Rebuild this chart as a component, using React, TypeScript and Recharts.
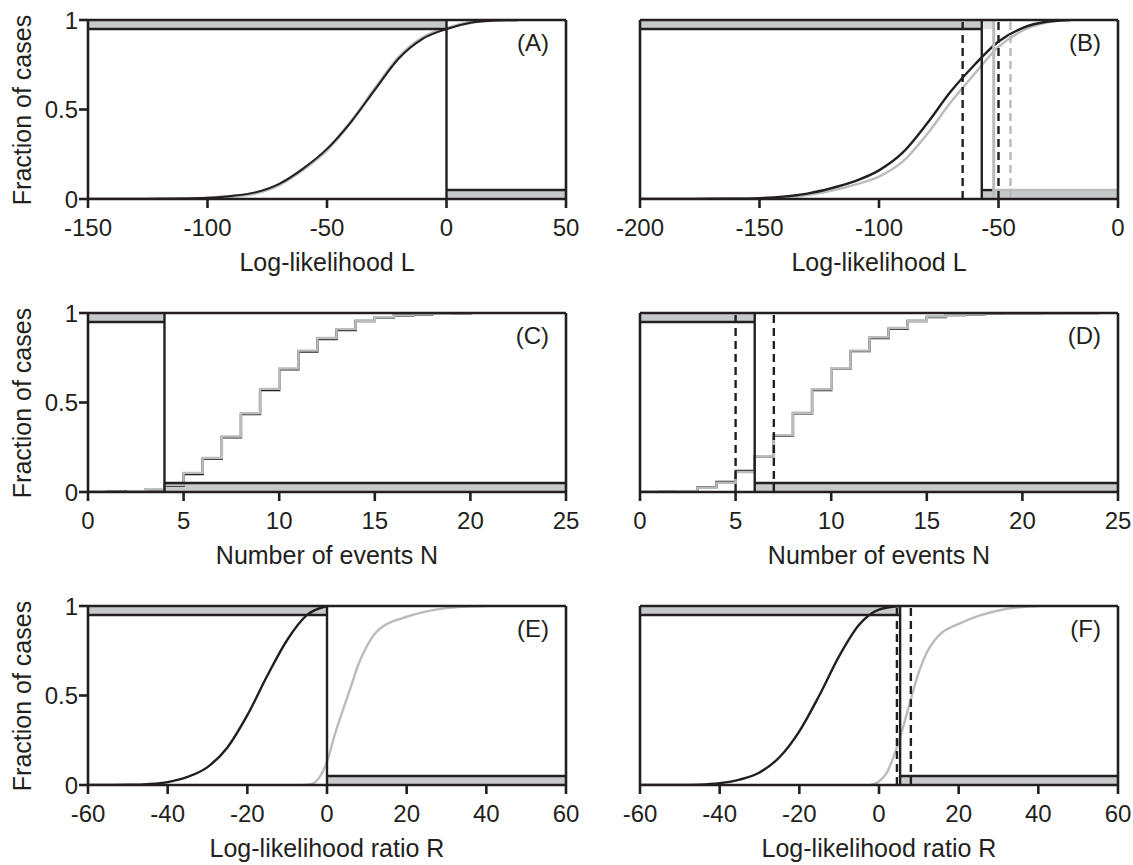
import React from 'react';
import { LineChart, Line, XAxis, YAxis, ReferenceArea, ReferenceLine } from 'recharts';

const INK = '#231f20';
const GREY = '#b9bbbd';
const BAND = '#c8c9cb';
const BAND_LIGHT = '#dfe0e1';
const FONT = '"Liberation Sans", Arial, Helvetica, sans-serif';

// ---------- tick labels ----------
const TICKS_LA = [-150, -100, -50, 0, 50];
const TICKS_LB = [-200, -150, -100, -50, 0];
const TICKS_N = [0, 5, 10, 15, 20, 25];
const TICKS_R = [-60, -40, -20, 0, 20, 40, 60];
const TICKS_Y = [0, 0.5, 1];

const PANEL_LABELS = ['(A)', '(B)', '(C)', '(D)', '(E)', '(F)'];
const X_TITLES = [
  'Log-likelihood L',
  'Log-likelihood L',
  'Number of events N',
  'Number of events N',
  'Log-likelihood ratio R',
  'Log-likelihood ratio R',
];
const Y_TITLE = 'Fraction of cases';

// ---------- significance levels ----------
const LEVEL_HI = 0.95;
const LEVEL_LO = 0.05;

// ---------- panel A ----------
const A_X = [-150, -130, -120, -110, -100, -90, -80, -70, -60, -50, -40, -30, -20, -10, 0, 10, 20, 30];
const A_BLACK = [0, 0, 0.001, 0.003, 0.007, 0.017, 0.037, 0.085, 0.17, 0.28, 0.43, 0.61, 0.785, 0.895, 0.95, 0.985, 0.997, 1];
const A_GREY = [0, 0, 0.001, 0.002, 0.005, 0.014, 0.033, 0.08, 0.165, 0.275, 0.43, 0.615, 0.79, 0.9, 0.952, 0.986, 0.998, 1];
const A_CUT = 0;

// ---------- panel B ----------
const B_X = [-200, -190, -180, -170, -160, -150, -140, -130, -120, -110, -100, -90, -80, -70, -60, -50, -40, -30, -20];
const B_BLACK = [0, 0, 0, 0.001, 0.002, 0.005, 0.013, 0.03, 0.06, 0.1, 0.16, 0.26, 0.42, 0.6, 0.75, 0.88, 0.955, 0.99, 1];
const B_GREY = [0, 0, 0, 0, 0.001, 0.003, 0.009, 0.022, 0.045, 0.08, 0.125, 0.21, 0.36, 0.54, 0.7, 0.85, 0.94, 0.985, 1];
const B_CUT_BLACK = -57;
const B_CUT_GREY = -52;
const B_DASH_BLACK = [-65, -50];
const B_DASH_GREY = [-45];

// ---------- panel C ----------
const C_X_BLACK = [0, 1, 2, 3, 4, 5, 6, 7, 8, 9, 10, 11, 12, 13, 14, 15, 16, 17, 18, 19, 20];
const C_BLACK = [0, 0.001, 0.004, 0.012, 0.036, 0.1, 0.185, 0.305, 0.435, 0.57, 0.685, 0.785, 0.855, 0.905, 0.955, 0.975, 0.986, 0.992, 0.996, 0.998, 0.999];
const C_X_GREY = [2, 3, 4, 5, 6, 7, 8, 9, 10, 11, 12, 13, 14, 15, 16, 17, 18, 19, 20];
const C_GREY = [0.005, 0.013, 0.04, 0.107, 0.19, 0.31, 0.44, 0.576, 0.69, 0.79, 0.86, 0.91, 0.957, 0.976, 0.987, 0.993, 0.996, 0.998, 0.999];
const C_CUT = 4;

// ---------- panel D ----------
const D_X = [0, 1, 2, 3, 4, 5, 6, 7, 8, 9, 10, 11, 12, 13, 14, 15, 16, 17, 18, 19, 20, 21, 22, 23, 24];
const D_BLACK = [0, 0.001, 0.005, 0.026, 0.056, 0.118, 0.2, 0.315, 0.44, 0.57, 0.688, 0.787, 0.86, 0.912, 0.955, 0.978, 0.988, 0.993, 0.996, 0.998, 0.999, 1, 1, 1, 1];
const D_GREY = [0, 0.001, 0.004, 0.024, 0.052, 0.112, 0.2, 0.318, 0.443, 0.574, 0.69, 0.79, 0.864, 0.916, 0.957, 0.98, 0.989, 0.994, 0.997, 0.998, 0.999, 0.999, 1, 1, 1];
const D_CUT = 6;
const D_DASH = [5, 7];

// ---------- panel E ----------
const E_X_BLACK = [-60, -55, -50, -45, -40, -35, -30, -25, -20, -15, -10, -5, 0];
const E_BLACK = [0, 0, 0.001, 0.005, 0.016, 0.045, 0.1, 0.21, 0.39, 0.61, 0.81, 0.95, 1];
const E_X_GREY = [-6, -4, -2, 0, 2, 4, 6, 8, 10, 12, 14, 16, 18, 20, 25, 30, 35, 40];
const E_GREY = [0, 0.005, 0.04, 0.13, 0.285, 0.42, 0.55, 0.68, 0.775, 0.845, 0.885, 0.91, 0.925, 0.94, 0.97, 0.988, 0.997, 1];
const E_CUT = 0;

// ---------- panel F ----------
const F_X_BLACK = [-60, -55, -50, -45, -40, -35, -30, -25, -20, -15, -10, -5, 0, 5];
const F_BLACK = [0, 0, 0, 0.002, 0.01, 0.03, 0.07, 0.155, 0.3, 0.5, 0.72, 0.895, 0.98, 1];
const F_X_GREY = [-2, 0, 2, 4, 6, 8, 10, 12, 14, 16, 18, 20, 25, 30, 35, 40];
const F_GREY = [0, 0.02, 0.07, 0.18, 0.32, 0.48, 0.63, 0.74, 0.81, 0.855, 0.88, 0.9, 0.945, 0.975, 0.993, 1];
const F_CUT = 5.3;
const F_DASH = [4.5, 8];

// ---------- layout ----------
const PLOT_LEFT = [88, 640];
const PLOT_TOP = [20, 313, 606];
const PLOT_W = 478;
const PLOT_H = 179;
const TOP_AX = 12;
const BOT_AX = 46;
const RIGHT_AX = 14;
const AX_W = 2.6;
const LINE_W = 2.4;

type Curve = { xs: number[]; ys: number[]; color: string; kind: 'monotone' | 'stepAfter'; w: number };
type Area = { x1: number; x2: number; y1: number; y2: number; fill: string };
type Seg = { x1: number; x2: number; y: number; color: string };
type VLine = { x: number; color: string; dash?: boolean; w?: number };

interface PanelSpec {
  col: number;
  row: number;
  domain: [number, number];
  ticks: number[];
  areas: Area[];
  segs: Seg[];
  vlines: VLine[];
  curves: Curve[];
}

function standardShading(lo: number, hi: number, cut: number): { areas: Area[]; segs: Seg[] } {
  return {
    areas: [
      { x1: lo, x2: cut, y1: LEVEL_HI, y2: 1, fill: BAND },
      { x1: cut, x2: hi, y1: 0, y2: LEVEL_LO, fill: BAND },
    ],
    segs: [
      { x1: lo, x2: cut, y: LEVEL_HI, color: INK },
      { x1: cut, x2: hi, y: LEVEL_LO, color: INK },
    ],
  };
}

const shA = standardShading(-150, 50, A_CUT);
const shC = standardShading(0, 25, C_CUT);
const shD = standardShading(0, 25, D_CUT);
const shE = standardShading(-60, 60, E_CUT);
const shF = standardShading(-60, 60, F_CUT);

const PANELS: PanelSpec[] = [
  {
    col: 0, row: 0, domain: [-150, 50], ticks: TICKS_LA,
    areas: shA.areas, segs: shA.segs,
    vlines: [{ x: A_CUT, color: INK }],
    curves: [
      { xs: A_X, ys: A_GREY, color: GREY, kind: 'monotone', w: 3.4 },
      { xs: A_X, ys: A_BLACK, color: INK, kind: 'monotone', w: 2 },
    ],
  },
  {
    col: 1, row: 0, domain: [-200, 0], ticks: TICKS_LB,
    areas: [
      { x1: -200, x2: B_CUT_BLACK, y1: LEVEL_HI, y2: 1, fill: BAND },
      { x1: B_CUT_BLACK, x2: B_CUT_GREY, y1: LEVEL_HI, y2: 1, fill: BAND_LIGHT },
      { x1: B_CUT_BLACK, x2: 0, y1: 0, y2: LEVEL_LO, fill: BAND },
    ],
    segs: [
      { x1: -200, x2: B_CUT_BLACK, y: LEVEL_HI, color: INK },
      { x1: B_CUT_GREY, x2: 0, y: LEVEL_LO, color: GREY },
      { x1: B_CUT_BLACK, x2: B_CUT_GREY, y: LEVEL_LO, color: INK },
    ],
    vlines: [
      { x: B_CUT_GREY, color: GREY, w: 3 },
      { x: B_CUT_BLACK, color: INK },
      ...B_DASH_BLACK.map((x) => ({ x, color: INK, dash: true })),
      ...B_DASH_GREY.map((x) => ({ x, color: GREY, dash: true })),
    ],
    curves: [
      { xs: B_X, ys: B_GREY, color: GREY, kind: 'monotone', w: LINE_W },
      { xs: B_X, ys: B_BLACK, color: INK, kind: 'monotone', w: LINE_W },
    ],
  },
  {
    col: 0, row: 1, domain: [0, 25], ticks: TICKS_N,
    areas: shC.areas, segs: shC.segs,
    vlines: [{ x: C_CUT, color: INK }],
    curves: [
      { xs: C_X_BLACK, ys: C_BLACK, color: INK, kind: 'stepAfter', w: LINE_W },
      { xs: C_X_GREY, ys: C_GREY, color: GREY, kind: 'stepAfter', w: LINE_W },
    ],
  },
  {
    col: 1, row: 1, domain: [0, 25], ticks: TICKS_N,
    areas: shD.areas, segs: shD.segs,
    vlines: [{ x: D_CUT, color: INK }, ...D_DASH.map((x) => ({ x, color: INK, dash: true }))],
    curves: [
      { xs: D_X, ys: D_BLACK, color: INK, kind: 'stepAfter', w: LINE_W },
      { xs: D_X, ys: D_GREY, color: GREY, kind: 'stepAfter', w: LINE_W },
    ],
  },
  {
    col: 0, row: 2, domain: [-60, 60], ticks: TICKS_R,
    areas: shE.areas, segs: shE.segs,
    vlines: [{ x: E_CUT, color: INK }],
    curves: [
      { xs: E_X_GREY, ys: E_GREY, color: GREY, kind: 'monotone', w: LINE_W },
      { xs: E_X_BLACK, ys: E_BLACK, color: INK, kind: 'monotone', w: LINE_W },
    ],
  },
  {
    col: 1, row: 2, domain: [-60, 60], ticks: TICKS_R,
    areas: shF.areas, segs: shF.segs,
    vlines: [{ x: F_CUT, color: INK }, ...F_DASH.map((x) => ({ x, color: INK, dash: true }))],
    curves: [
      { xs: F_X_GREY, ys: F_GREY, color: GREY, kind: 'monotone', w: LINE_W },
      { xs: F_X_BLACK, ys: F_BLACK, color: INK, kind: 'monotone', w: LINE_W },
    ],
  },
];

const tickText = { fill: INK, fontSize: 24, fontFamily: FONT };

function Panel({ spec }: { spec: PanelSpec }) {
  const leftAxisW = spec.col === 0 ? 88 : 40;
  const width = leftAxisW + PLOT_W + RIGHT_AX;
  const height = TOP_AX + PLOT_H + BOT_AX;
  const left = PLOT_LEFT[spec.col] - leftAxisW;
  const top = PLOT_TOP[spec.row] - TOP_AX;
  return (
    <div style={{ position: 'absolute', left, top, width, height }}>
      <LineChart width={width} height={height} margin={{ top: 0, right: 0, bottom: 0, left: 0 }}>
        {spec.areas.map((a, i) => (
          <ReferenceArea
            key={'a' + i}
            x1={a.x1}
            x2={a.x2}
            y1={a.y1}
            y2={a.y2}
            fill={a.fill}
            fillOpacity={1}
            stroke="none"
          />
        ))}
        {spec.curves.map((c, i) => (
          <Line
            key={'c' + i}
            data={c.xs.map((x, j) => ({ x, y: c.ys[j] }))}
            dataKey="y"
            type={c.kind}
            stroke={c.color}
            strokeWidth={c.w}
            dot={false}
            activeDot={false}
            isAnimationActive={false}
          />
        ))}
        {spec.segs.map((s, i) => (
          <ReferenceLine
            key={'s' + i}
            segment={[{ x: s.x1, y: s.y }, { x: s.x2, y: s.y }]}
            stroke={s.color}
            strokeWidth={LINE_W}
          />
        ))}
        {spec.vlines.map((v, i) => (
          <ReferenceLine
            key={'v' + i}
            x={v.x}
            stroke={v.color}
            strokeWidth={v.w ?? LINE_W}
            strokeDasharray={v.dash ? '8 5' : undefined}
          />
        ))}
        <XAxis
          xAxisId={0}
          type="number"
          dataKey="x"
          domain={spec.domain}
          ticks={spec.ticks}
          allowDataOverflow
          interval={0}
          height={BOT_AX}
          tickSize={9}
          tickMargin={11}
          stroke={INK}
          strokeWidth={AX_W}
          tick={tickText}
        />
        <XAxis
          xAxisId="top"
          orientation="top"
          type="number"
          dataKey="x"
          domain={spec.domain}
          ticks={spec.ticks}
          allowDataOverflow
          interval={0}
          height={TOP_AX}
          tickSize={10}
          stroke={INK}
          strokeWidth={AX_W}
          tick={false}
        />
        <YAxis
          yAxisId={0}
          type="number"
          domain={[0, 1]}
          ticks={TICKS_Y}
          allowDataOverflow
          interval={0}
          width={leftAxisW}
          tickSize={9}
          tickMargin={1}
          stroke={INK}
          strokeWidth={AX_W}
          tick={spec.col === 0 ? tickText : false}
        />
        <YAxis
          yAxisId="right"
          orientation="right"
          type="number"
          domain={[0, 1]}
          ticks={TICKS_Y}
          allowDataOverflow
          interval={0}
          width={RIGHT_AX}
          tickSize={10}
          stroke={INK}
          strokeWidth={AX_W}
          tick={false}
        />
      </LineChart>
    </div>
  );
}

export default function App() {
  return (
    <div
      style={{
        position: 'absolute',
        left: 0,
        top: 0,
        width: 1133,
        height: 865,
        background: '#ffffff',
        overflow: 'hidden',
        fontFamily: FONT,
        color: INK,
      }}
    >
      {PANELS.map((p, i) => (
        <Panel key={i} spec={p} />
      ))}
      {PANELS.map((p, i) => {
        const plotRight = PLOT_LEFT[p.col] + PLOT_W;
        const baseline = PLOT_TOP[p.row] + 31;
        return (
          <div
            key={'lab' + i}
            style={{
              position: 'absolute',
              right: 1133 - (plotRight - 17),
              top: baseline - 20,
              fontSize: 24,
              lineHeight: 1,
              whiteSpace: 'nowrap',
            }}
          >
            {PANEL_LABELS[i]}
          </div>
        );
      })}
      {PANELS.map((p, i) => {
        const baseline = PLOT_TOP[p.row] + PLOT_H + 72;
        return (
          <div
            key={'xt' + i}
            style={{
              position: 'absolute',
              left: PLOT_LEFT[p.col],
              width: PLOT_W,
              top: baseline - 21,
              fontSize: 25,
              lineHeight: 1,
              textAlign: 'center',
              whiteSpace: 'nowrap',
            }}
          >
            {X_TITLES[i]}
          </div>
        );
      })}
      {PLOT_TOP.map((t, i) => (
        <div
          key={'yt' + i}
          style={{
            position: 'absolute',
            left: 22,
            top: t + PLOT_H / 2,
            fontSize: 25,
            lineHeight: 1,
            whiteSpace: 'nowrap',
            transform: 'translate(-50%, -50%) rotate(-90deg)',
          }}
        >
          {Y_TITLE}
        </div>
      ))}
    </div>
  );
}
